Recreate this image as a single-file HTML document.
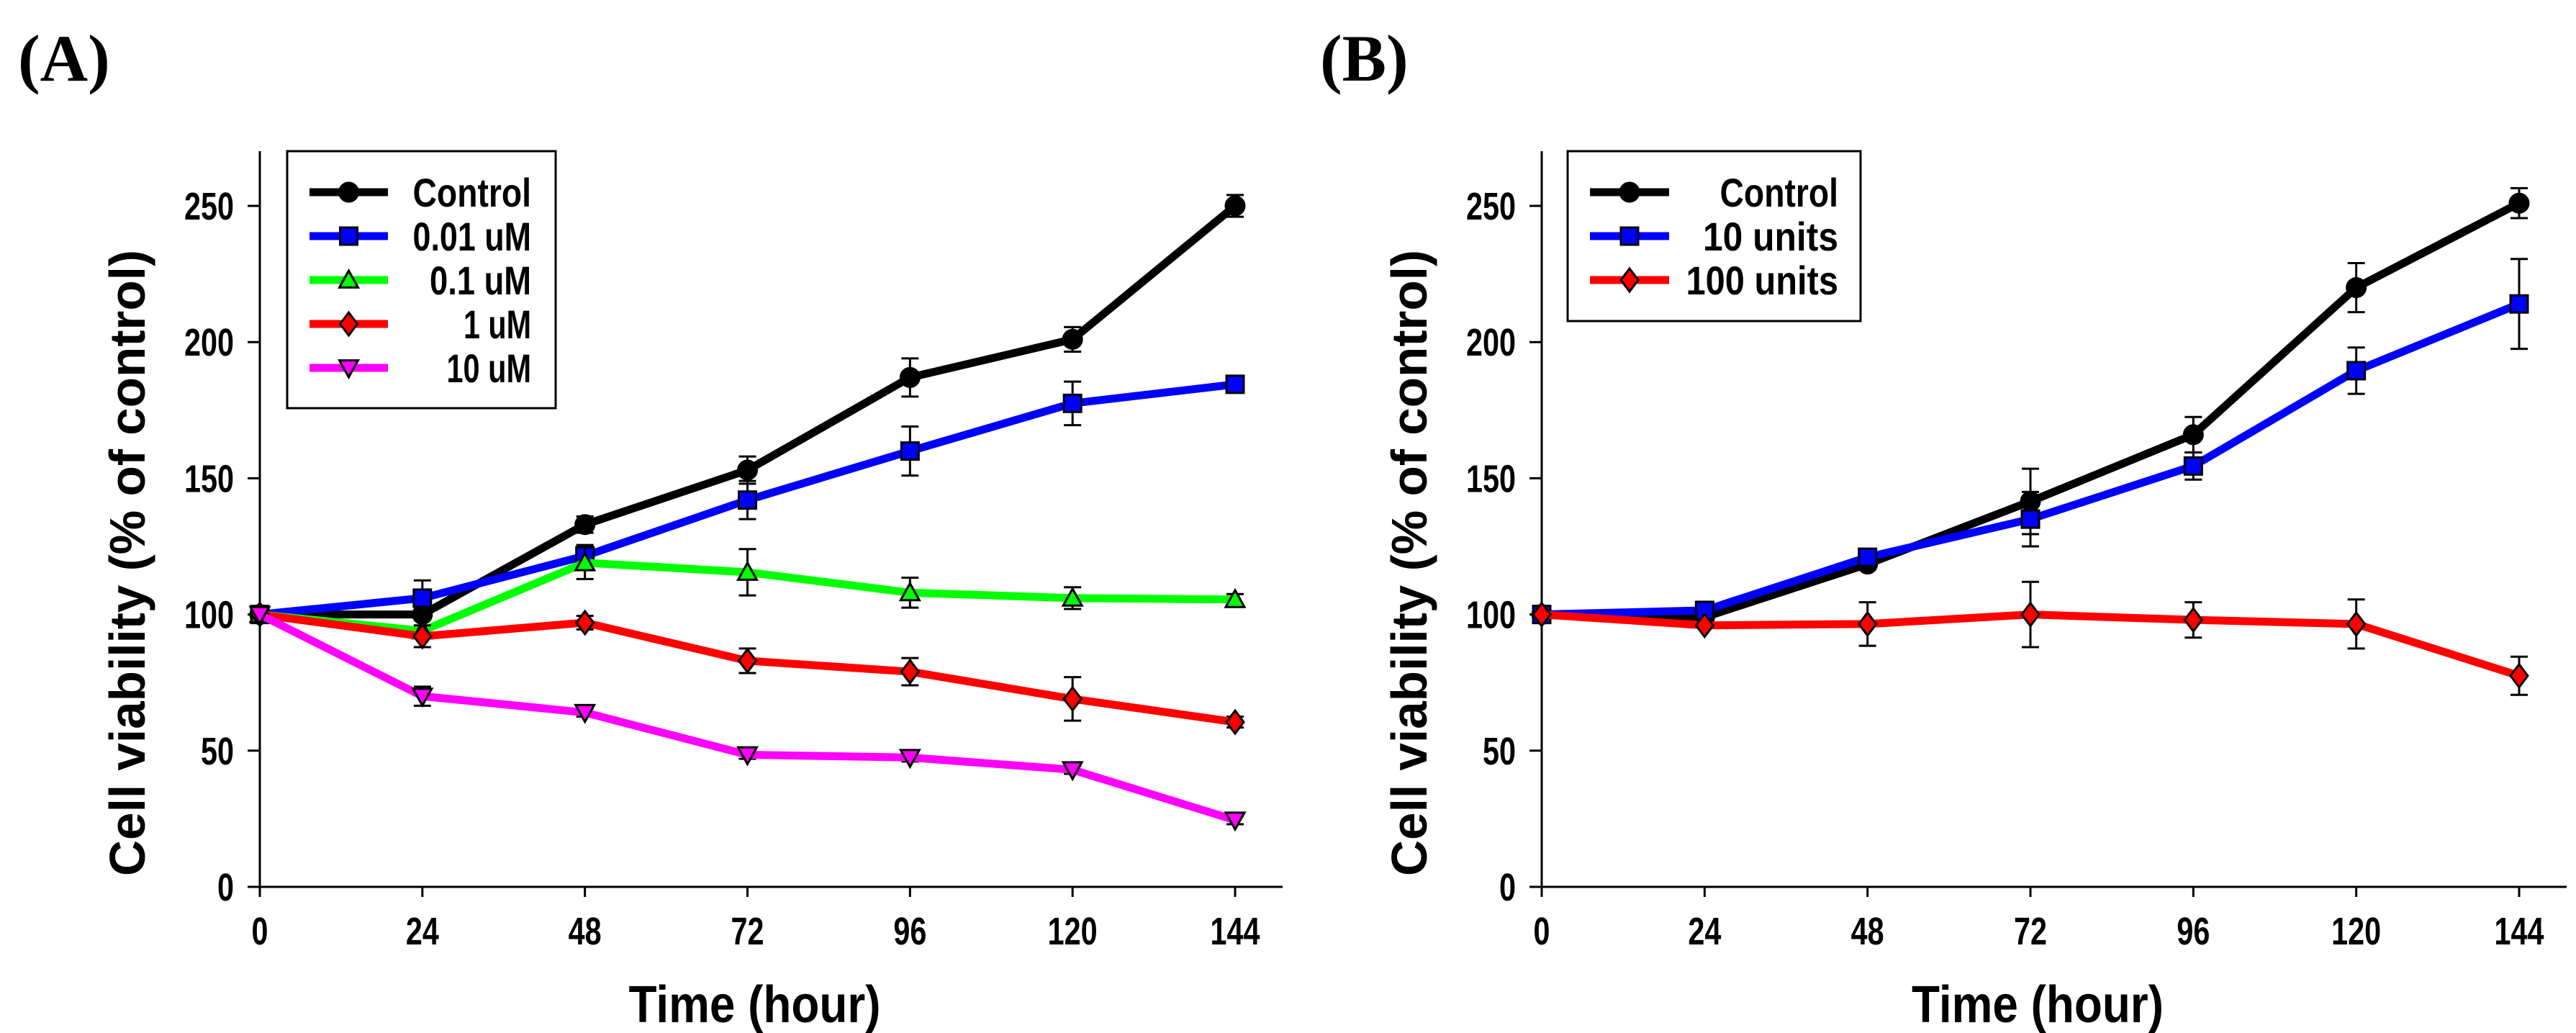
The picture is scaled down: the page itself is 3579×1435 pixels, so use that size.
<!DOCTYPE html>
<html><head><meta charset="utf-8"><style>
html,body{margin:0;padding:0;background:#fff;}
svg{display:block;}
text{font-family:"Liberation Sans",Arial,sans-serif;font-weight:bold;fill:#000;}
</style></head>
<body>
<svg id="chart" xmlns="http://www.w3.org/2000/svg" width="3579" height="1435" viewBox="0 0 3579 1435"></svg>
<script>
// ---- data ----
const timesHours = [0, 24, 48, 72, 96, 120, 144];
const yTickValues = [0, 50, 100, 150, 200, 250];
const xTickValues = [0, 24, 48, 72, 96, 120, 144];

const aNames = ["Control", "0.01 uM", "0.1 uM", "1 uM", "10 uM"];
const aControl = [100, 100, 133, 153, 187, 201, 250];
const aControlErr = [0, 0, 3, 5, 7, 4.5, 4];
const a001 = [100, 106, 121.5, 142, 160, 177.5, 184.5];
const a001Err = [0, 6.5, 4, 7, 9, 8, 2.5];
const a01 = [100, 94, 119, 115.5, 108, 106, 105.5];
const a01Err = [0, 0, 6, 8.5, 5.5, 4, 2];
const a1 = [100, 92, 97, 83, 79, 69, 60.5];
const a1Err = [0, 4, 2.5, 4.5, 5, 8, 2];
const a10 = [100, 70, 64, 48.5, 47.5, 43, 24.5];
const a10Err = [0, 3.5, 1.5, 1.5, 1.5, 1.5, 1.5];

const bNames = ["Control", "10 units", "100 units"];
const bControl = [100, 99, 118.5, 141.5, 166, 220, 251];
const bControlErr = [0, 0, 2, 12, 6.5, 9, 5.5];
const b10 = [100, 101.5, 121, 135, 154.5, 189.5, 214];
const b10Err = [0, 1.5, 2, 10, 5, 8.5, 16.5];
const b100 = [100, 96, 96.5, 100, 98, 96.5, 77.5];
const b100Err = [0, 0, 8, 12, 6.5, 9, 7];

const NS = "http://www.w3.org/2000/svg";
const svg = document.getElementById("chart");
function mk(tag, attrs, parent) {
  const e = document.createElementNS(NS, tag);
  for (const k in attrs) e.setAttribute(k, attrs[k]);
  (parent || svg).appendChild(e);
  return e;
}

function marker(g, shape, cx, cy, fill) {
  let e;
  const s = 13;
  if (shape === "circle") e = mk("circle", {cx, cy, r: 13, fill, stroke: "#000", "stroke-width": 3}, g);
  else if (shape === "square") e = mk("rect", {x: cx - 12, y: cy - 12, width: 24, height: 24, fill, stroke: "#000", "stroke-width": 3}, g);
  else if (shape === "tri") e = mk("polygon", {points: `${cx},${cy - s} ${cx + s},${cy + s * 0.8} ${cx - s},${cy + s * 0.8}`, fill, stroke: "#000", "stroke-width": 3}, g);
  else if (shape === "tridown") e = mk("polygon", {points: `${cx},${cy + s} ${cx + s},${cy - s * 0.8} ${cx - s},${cy - s * 0.8}`, fill, stroke: "#000", "stroke-width": 3}, g);
  else e = mk("polygon", {points: `${cx},${cy - 16} ${cx + 12},${cy} ${cx},${cy + 16} ${cx - 12},${cy}`, fill, stroke: "#000", "stroke-width": 3}, g);
  
  
  return e;
}

function panel(cfg) {
  const pg = mk("g", {});
  
  
  const x0 = cfg.x0, x1 = cfg.x1, yb = 1232, yt = 286;
  const sx = v => x0 + (v - 0) / 144 * (x1 - x0);
  const sy = v => yb - v / 250 * (yb - yt);

  const lab = mk("text", {x: cfg.labelX, y: 112, "font-size": 92, style: "font-family:'Liberation Serif',serif;font-weight:bold"}, pg);
  lab.textContent = cfg.label;
  
  

  const ya = mk("line", {x1: x0, y1: 210, x2: x0, y2: yb, stroke: "#000", "stroke-width": 3}, pg);
  
  
  const xa = mk("line", {x1: x0, y1: yb, x2: cfg.xEnd, y2: yb, stroke: "#000", "stroke-width": 3}, pg);
  
  

  yTickValues.forEach(v => {
    const t = mk("line", {x1: x0 - 17, y1: sy(v), x2: x0, y2: sy(v), stroke: "#000", "stroke-width": 3}, pg);
    
    
    const s = String(v);
    const tx = mk("text", {x: x0 - 36, y: sy(v) + 19, "font-size": 54, "text-anchor": "end", textLength: s.length * 23, lengthAdjust: "spacingAndGlyphs"}, pg);
    tx.textContent = s;
    
    
  });
  xTickValues.forEach(v => {
    const t = mk("line", {x1: sx(v), y1: yb, x2: sx(v), y2: yb + 14, stroke: "#000", "stroke-width": 3}, pg);
    
    
    const s = String(v);
    const tx = mk("text", {x: sx(v), y: 1312, "font-size": 54, "text-anchor": "middle", textLength: s.length * 23, lengthAdjust: "spacingAndGlyphs"}, pg);
    tx.textContent = s;
    
    
  });

  const xt = mk("text", {x: (x0 + x1) / 2 + 10, y: 1420, "font-size": 72, "text-anchor": "middle", textLength: 350, lengthAdjust: "spacingAndGlyphs"}, pg);
  xt.textContent = "Time (hour)";
  
  
  const ycx = x0 - 160, ycy = 782;
  const yt2 = mk("text", {x: ycx, y: ycy, "font-size": 70, "text-anchor": "middle", textLength: 870, lengthAdjust: "spacingAndGlyphs", transform: `rotate(-90 ${ycx} ${ycy})`}, pg);
  yt2.textContent = "Cell viability (% of control)";
  
  

  cfg.series.forEach(s => {
    const g = mk("g", {}, pg);
    
    
    s.err.forEach((e, i) => {
      if (e <= 0) return;
      const x = sx(timesHours[i]), ya_ = sy(s.vals[i] + e), yb_ = sy(s.vals[i] - e);
      const eb = mk("path", {d: `M${x},${ya_}V${yb_}M${x - 12},${ya_}H${x + 12}M${x - 12},${yb_}H${x + 12}`, stroke: "#000", "stroke-width": 3, fill: "none"}, g);
      
      
    });
    const pts = s.vals.map((v, i) => `${sx(timesHours[i])},${sy(v)}`).join(" ");
    const pl = mk("polyline", {points: pts, fill: "none", stroke: s.color, "stroke-width": 11, "stroke-linejoin": "round"}, g);
    
    
    s.vals.forEach((v, i) => marker(g, s.shape, sx(timesHours[i]), sy(v), s.fill));
  });

  const L = cfg.legend;
  const lg = mk("g", {}, pg);
  
  
  const box = mk("rect", {x: L.x, y: 210, width: L.w, height: L.h, fill: "#fff", stroke: "#000", "stroke-width": 3}, lg);
  
  
  cfg.series.forEach((s, i) => {
    const y = 267 + i * 61;
    const eg = mk("g", {}, lg);
    
    
    mk("line", {x1: L.lx1, y1: y, x2: L.lx2, y2: y, stroke: s.color, "stroke-width": 11}, eg);
    marker(eg, s.shape, (L.lx1 + L.lx2) / 2, y, s.fill);
    const t = mk("text", {x: L.tx, y: y + 20, "font-size": 56, "text-anchor": "end", textLength: s.name.length * 23.5, lengthAdjust: "spacingAndGlyphs"}, eg);
    t.textContent = s.name;
  });
}

panel({
  id: "panel-a", label: "(A)", labelX: 25, x0: 361, x1: 1716, xEnd: 1782,
  legend: {x: 399, w: 373, h: 357, lx1: 430, lx2: 539, tx: 738},
  series: [
    {name: aNames[0], vals: aControl, err: aControlErr, color: "#000", fill: "#000", shape: "circle"},
    {name: aNames[1], vals: a001, err: a001Err, color: "#0000ff", fill: "#0000ff", shape: "square"},
    {name: aNames[2], vals: a01, err: a01Err, color: "#00ff00", fill: "#00ff00", shape: "tri"},
    {name: aNames[3], vals: a1, err: a1Err, color: "#ff0000", fill: "#ff0000", shape: "diamond"},
    {name: aNames[4], vals: a10, err: a10Err, color: "#ff00ff", fill: "#ff00ff", shape: "tridown"}
  ]
});
panel({
  id: "panel-b", label: "(B)", labelX: 1834, x0: 2142, x1: 3500, xEnd: 3566,
  legend: {x: 2178, w: 407, h: 236, lx1: 2209, lx2: 2319, tx: 2554},
  series: [
    {name: bNames[0], vals: bControl, err: bControlErr, color: "#000", fill: "#000", shape: "circle"},
    {name: bNames[1], vals: b10, err: b10Err, color: "#0000ff", fill: "#0000ff", shape: "square"},
    {name: bNames[2], vals: b100, err: b100Err, color: "#ff0000", fill: "#ff0000", shape: "diamond"}
  ]
});
</script>
</body></html>
